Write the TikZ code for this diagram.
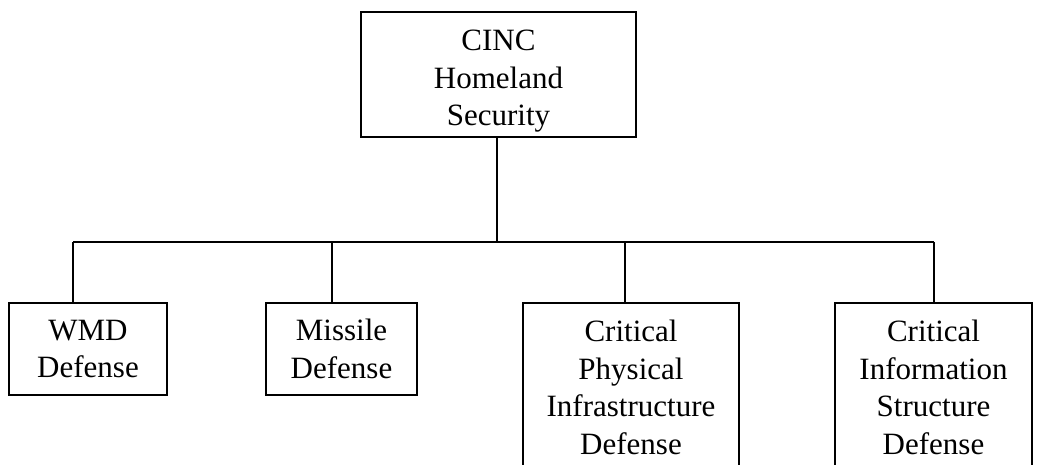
\documentclass[tikz,border=0pt]{standalone}
\usepackage{fontspec}
\setmainfont{Liberation Serif}
\usetikzlibrary{positioning}
\tikzstyle{chart} = [x = 1pt, y = -1pt]
\tikzstyle{boxStyle} = [draw=black, line width=1.8pt, align=center, inner sep=0pt, font=\fontsize{31}{37.5}\selectfont]
\tikzstyle{boxText} = [align=center, inner sep=0pt, font=\fontsize{31}{37.5}\selectfont]
\tikzstyle{linkLine} = [color=black, line width=1.8pt]

\begin{document}
\begin{tikzpicture}[chart]
      \useasboundingbox (0,0) rectangle (1039,465);
      \clip (0,0) rectangle (1039,465);

      % top box, text clipped at its lower edge
      \node[boxStyle, minimum width=275, minimum height=125,
        path picture={\node[boxText] (cincText) at ([yshift=-7pt]path picture bounding box.center) {CINC\\Homeland\\Security};}] (cinc) at (498.5,74.5) {};

      \node[boxStyle, minimum width=158, minimum height=92] (wmd) at (88,349) {WMD\\Defense};
      \node[boxStyle, minimum width=151, minimum height=92] (missile) at (341.5,349) {Missile\\Defense};
      \node[boxStyle, minimum width=216, minimum height=169] (physical) at (631,387.5) {Critical\\Physical\\Infrastructure\\Defense};
      \node[boxStyle, minimum width=197, minimum height=169] (information) at (933.5,387.5) {Critical\\Information\\Structure\\Defense};

      \coordinate (cincTap) at (497,242);
      \coordinate (wmdTap) at (73,242);
      \coordinate (missileTap) at (332,242);
      \coordinate (physicalTap) at (625,242);
      \coordinate (informationTap) at (934,242);

      \draw[linkLine] (cincTap |- cinc.south) -- (cincTap);
      \draw[linkLine] (wmdTap) -- (informationTap);
      \foreach \tap/\target in {wmdTap/wmd, missileTap/missile, physicalTap/physical, informationTap/information} {
        \draw[linkLine] (\tap) -- (\tap |- \target.north);
      }
    \end{tikzpicture}
\end{document}
